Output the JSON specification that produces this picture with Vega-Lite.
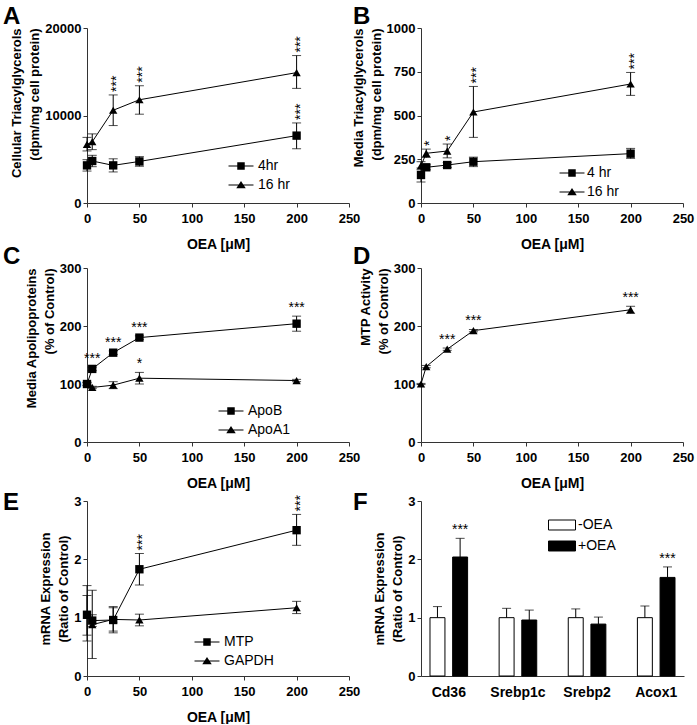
{
"$schema": "https://vega.github.io/schema/vega-lite/v6.json",
"padding": {"left": 3, "top": 5, "right": 3, "bottom": 0},
"autosize": {"type": "pad"},
"bounds": "full",
"spacing": -6,
"config": {
  "font": "Liberation Sans",
  "view": {"stroke": null},
  "axis": {"domainColor": "#333", "tickColor": "#333", "tickSize": 4, "labelFont": "Liberation Sans", "labelFontSize": 13, "labelFontWeight": "bold", "labelColor": "black", "titleFont": "Liberation Sans", "titleFontSize": 13, "titleFontWeight": "bold", "titleColor": "black", "grid": false, "labelPadding": 2, "titleLineHeight": 18},
  "axisX": {"titleFontSize": 14, "titlePadding": 12, "labelPadding": 5, "labelFlush": false, "labelOverlap": false},
  "axisY": {"titlePadding": 3, "labelOverlap": false},
  "legend": {"labelFont": "Liberation Sans", "labelFontSize": 14, "labelColor": "black", "padding": 0, "rowPadding": 5, "orient": "none"},
  "title": {"anchor": "start", "frame": "group", "fontSize": 24, "fontWeight": "bold", "font": "Liberation Sans", "baseline": "alphabetic", "offset": -7, "color": "black"}
},
"datasets": {
  "a": [
    {"s": "4hr", "x": 0, "y": 4300, "lo": 3650, "hi": 4950, "sig": ""},
    {"s": "4hr", "x": 5, "y": 4800, "lo": 4150, "hi": 5450, "sig": ""},
    {"s": "4hr", "x": 25, "y": 4300, "lo": 3550, "hi": 5050, "sig": ""},
    {"s": "4hr", "x": 50, "y": 4750, "lo": 4200, "hi": 5300, "sig": ""},
    {"s": "4hr", "x": 200, "y": 7700, "lo": 6200, "hi": 9150, "sig": "***"},
    {"s": "16 hr", "x": 0, "y": 6700, "lo": 5950, "hi": 7500, "sig": ""},
    {"s": "16 hr", "x": 5, "y": 7000, "lo": 6100, "hi": 7900, "sig": ""},
    {"s": "16 hr", "x": 25, "y": 10600, "lo": 8850, "hi": 12350, "sig": "***"},
    {"s": "16 hr", "x": 50, "y": 11800, "lo": 10150, "hi": 13400, "sig": "***"},
    {"s": "16 hr", "x": 200, "y": 14900, "lo": 13100, "hi": 16850, "sig": "***"}
  ],
  "b": [
    {"s": "4 hr", "x": 0, "y": 160, "lo": 120, "hi": 200, "sig": ""},
    {"s": "4 hr", "x": 5, "y": 204, "lo": 190, "hi": 218, "sig": ""},
    {"s": "4 hr", "x": 25, "y": 217, "lo": 203, "hi": 231, "sig": ""},
    {"s": "4 hr", "x": 50, "y": 236, "lo": 208, "hi": 262, "sig": ""},
    {"s": "4 hr", "x": 200, "y": 282, "lo": 255, "hi": 312, "sig": ""},
    {"s": "16 hr", "x": 0, "y": 213, "lo": 190, "hi": 236, "sig": ""},
    {"s": "16 hr", "x": 5, "y": 284, "lo": 260, "hi": 308, "sig": "*"},
    {"s": "16 hr", "x": 25, "y": 297, "lo": 258, "hi": 337, "sig": "*"},
    {"s": "16 hr", "x": 50, "y": 520, "lo": 375, "hi": 666, "sig": "***"},
    {"s": "16 hr", "x": 200, "y": 680, "lo": 615, "hi": 746, "sig": "***"}
  ],
  "c": [
    {"s": "ApoB", "x": 0, "y": 100, "lo": 97, "hi": 103, "sig": ""},
    {"s": "ApoB", "x": 5, "y": 126, "lo": 123, "hi": 129, "sig": "***"},
    {"s": "ApoB", "x": 25, "y": 154, "lo": 151, "hi": 157, "sig": "***"},
    {"s": "ApoB", "x": 50, "y": 180, "lo": 177, "hi": 183, "sig": "***"},
    {"s": "ApoB", "x": 200, "y": 204, "lo": 191, "hi": 217, "sig": "***"},
    {"s": "ApoA1", "x": 0, "y": 100, "lo": 98, "hi": 102, "sig": ""},
    {"s": "ApoA1", "x": 5, "y": 94, "lo": 92, "hi": 96, "sig": ""},
    {"s": "ApoA1", "x": 25, "y": 98, "lo": 92, "hi": 104, "sig": ""},
    {"s": "ApoA1", "x": 50, "y": 110, "lo": 100, "hi": 120, "sig": "*"},
    {"s": "ApoA1", "x": 200, "y": 106, "lo": 104, "hi": 108, "sig": ""}
  ],
  "d": [
    {"s": "MTP", "x": 0, "y": 100, "lo": 99, "hi": 101, "sig": ""},
    {"s": "MTP", "x": 5, "y": 130, "lo": 128, "hi": 132, "sig": ""},
    {"s": "MTP", "x": 25, "y": 160, "lo": 158, "hi": 162, "sig": "***"},
    {"s": "MTP", "x": 50, "y": 192, "lo": 190, "hi": 194, "sig": "***"},
    {"s": "MTP", "x": 200, "y": 228, "lo": 222, "hi": 234, "sig": "***"}
  ],
  "e": [
    {"s": "MTP", "x": 0, "y": 1.05, "lo": 0.6, "hi": 1.55, "sig": ""},
    {"s": "MTP", "x": 5, "y": 0.95, "lo": 0.85, "hi": 1.05, "sig": ""},
    {"s": "MTP", "x": 25, "y": 0.96, "lo": 0.74, "hi": 1.19, "sig": ""},
    {"s": "MTP", "x": 50, "y": 1.83, "lo": 1.56, "hi": 2.1, "sig": "***"},
    {"s": "MTP", "x": 200, "y": 2.5, "lo": 2.24, "hi": 2.77, "sig": "***"},
    {"s": "GAPDH", "x": 0, "y": 1.05, "lo": 0.7, "hi": 1.38, "sig": ""},
    {"s": "GAPDH", "x": 5, "y": 0.88, "lo": 0.3, "hi": 1.47, "sig": ""},
    {"s": "GAPDH", "x": 25, "y": 0.97, "lo": 0.77, "hi": 1.17, "sig": ""},
    {"s": "GAPDH", "x": 50, "y": 0.96, "lo": 0.86, "hi": 1.06, "sig": ""},
    {"s": "GAPDH", "x": 200, "y": 1.17, "lo": 1.07, "hi": 1.28, "sig": ""}
  ],
  "f": [
    {"gene": "Cd36", "cond": "-OEA", "y": 1.0, "hi": 1.19, "sig": ""},
    {"gene": "Cd36", "cond": "+OEA", "y": 2.04, "hi": 2.36, "sig": "***"},
    {"gene": "Srebp1c", "cond": "-OEA", "y": 1.0, "hi": 1.16, "sig": ""},
    {"gene": "Srebp1c", "cond": "+OEA", "y": 0.96, "hi": 1.13, "sig": ""},
    {"gene": "Srebp2", "cond": "-OEA", "y": 1.0, "hi": 1.15, "sig": ""},
    {"gene": "Srebp2", "cond": "+OEA", "y": 0.89, "hi": 1.01, "sig": ""},
    {"gene": "Acox1", "cond": "-OEA", "y": 1.0, "hi": 1.2, "sig": ""},
    {"gene": "Acox1", "cond": "+OEA", "y": 1.69, "hi": 1.87, "sig": "***"}
  ]
},
"resolve": {"scale": {"shape": "independent", "fill": "independent"}, "legend": {"shape": "independent", "fill": "independent"}},
"vconcat": [
 {
  "bounds": "flush",
  "spacing": 72,
  "resolve": {"scale": {"shape": "independent", "fill": "independent"}, "legend": {"shape": "independent", "fill": "independent"}},
  "hconcat": [
   {
    "width": 262, "height": 175,
    "title": {"text": "A", "dx": -84},
    "data": {"name": "a"},
    "resolve": {"scale": {"shape": "independent"}, "legend": {"shape": "independent"}},
    "layer": [
     {"mark": {"type": "line", "color": "black", "strokeWidth": 1},
      "encoding": {
        "x": {"field": "x", "type": "quantitative", "scale": {"domain": [0, 250], "nice": false}, "axis": {"values": [0, 50, 100, 150, 200, 250], "title": "OEA [μM]"}},
        "y": {"field": "y", "type": "quantitative", "scale": {"domain": [0, 20000], "nice": false}, "axis": {"values": [0, 10000, 20000], "format": "d", "title": ["Cellular Triacylglycerols", "(dpm/mg cell protein)"], "titleAnchor": "end"}},
        "detail": {"field": "s"}}},
     {"mark": {"type": "rule", "color": "black", "strokeWidth": 1},
      "encoding": {"x": {"field": "x", "type": "quantitative"}, "y": {"field": "lo", "type": "quantitative"}, "y2": {"field": "hi"}}},
     {"mark": {"type": "tick", "orient": "horizontal", "color": "black", "size": 9, "thickness": 1},
      "encoding": {"x": {"field": "x", "type": "quantitative"}, "y": {"field": "lo", "type": "quantitative"}}},
     {"mark": {"type": "tick", "orient": "horizontal", "color": "black", "size": 9, "thickness": 1},
      "encoding": {"x": {"field": "x", "type": "quantitative"}, "y": {"field": "hi", "type": "quantitative"}}},
     {"mark": {"type": "point", "filled": true, "color": "black", "opacity": 1, "size": 70},
      "encoding": {"x": {"field": "x", "type": "quantitative"}, "y": {"field": "y", "type": "quantitative"},
        "shape": {"field": "s", "type": "nominal", "scale": {"domain": ["4hr", "16 hr"], "range": ["square", "triangle-up"]}, "legend": null}}},
     {"mark": {"type": "point", "filled": true, "color": "black", "opacity": 0},
      "encoding": {"x": {"field": "x", "type": "quantitative"}, "y": {"field": "y", "type": "quantitative"},
        "shape": {"field": "s", "type": "nominal", "scale": {"domain": ["4hr", "16 hr"], "range": ["M-2,-0.08H2V0.08H-2ZM-0.6,-0.6H0.6V0.6H-0.6Z", "M-2,-0.08H2V0.08H-2ZM0,-0.66L0.76,0.52H-0.76Z"]},
          "legend": {"title": null, "legendX": 147, "legendY": 131, "symbolSize": 156, "symbolOpacity": 1, "symbolFillColor": "black", "symbolStrokeWidth": 0, "labelOffset": 10}}}},
     {"mark": {"type": "text", "angle": 270, "align": "left", "baseline": "middle", "dx": 3, "dy": 4, "fontSize": 14, "color": "black"},
      "encoding": {"x": {"field": "x", "type": "quantitative"}, "y": {"field": "hi", "type": "quantitative"}, "text": {"field": "sig"}}}
    ]
   },
   {
    "width": 262, "height": 175,
    "title": {"text": "B", "dx": -68},
    "data": {"name": "b"},
    "resolve": {"scale": {"shape": "independent"}, "legend": {"shape": "independent"}},
    "layer": [
     {"mark": {"type": "line", "color": "black", "strokeWidth": 1},
      "encoding": {
        "x": {"field": "x", "type": "quantitative", "scale": {"domain": [0, 250], "nice": false}, "axis": {"values": [0, 50, 100, 150, 200, 250], "title": "OEA [μM]"}},
        "y": {"field": "y", "type": "quantitative", "scale": {"domain": [0, 1000], "nice": false}, "axis": {"values": [0, 250, 500, 750, 1000], "format": "d", "title": ["Media Triacylglycerols", "(dpm/mg cell protein)"], "titleAnchor": "end"}},
        "detail": {"field": "s"}}},
     {"mark": {"type": "rule", "color": "black", "strokeWidth": 1},
      "encoding": {"x": {"field": "x", "type": "quantitative"}, "y": {"field": "lo", "type": "quantitative"}, "y2": {"field": "hi"}}},
     {"mark": {"type": "tick", "orient": "horizontal", "color": "black", "size": 9, "thickness": 1},
      "encoding": {"x": {"field": "x", "type": "quantitative"}, "y": {"field": "lo", "type": "quantitative"}}},
     {"mark": {"type": "tick", "orient": "horizontal", "color": "black", "size": 9, "thickness": 1},
      "encoding": {"x": {"field": "x", "type": "quantitative"}, "y": {"field": "hi", "type": "quantitative"}}},
     {"mark": {"type": "point", "filled": true, "color": "black", "opacity": 1, "size": 70},
      "encoding": {"x": {"field": "x", "type": "quantitative"}, "y": {"field": "y", "type": "quantitative"},
        "shape": {"field": "s", "type": "nominal", "scale": {"domain": ["4 hr", "16 hr"], "range": ["square", "triangle-up"]}, "legend": null}}},
     {"mark": {"type": "point", "filled": true, "color": "black", "opacity": 0},
      "encoding": {"x": {"field": "x", "type": "quantitative"}, "y": {"field": "y", "type": "quantitative"},
        "shape": {"field": "s", "type": "nominal", "scale": {"domain": ["4 hr", "16 hr"], "range": ["M-2,-0.08H2V0.08H-2ZM-0.6,-0.6H0.6V0.6H-0.6Z", "M-2,-0.08H2V0.08H-2ZM0,-0.66L0.76,0.52H-0.76Z"]},
          "legend": {"title": null, "legendX": 144, "legendY": 138, "symbolSize": 156, "symbolOpacity": 1, "symbolFillColor": "black", "symbolStrokeWidth": 0, "labelOffset": 8}}}},
     {"mark": {"type": "text", "angle": 270, "align": "left", "baseline": "middle", "dx": 3, "dy": 4, "fontSize": 14, "color": "black"},
      "encoding": {"x": {"field": "x", "type": "quantitative"}, "y": {"field": "hi", "type": "quantitative"}, "text": {"field": "sig"}}}
    ]
   }
  ]
 },
 {
  "bounds": "flush",
  "spacing": 72,
  "resolve": {"scale": {"shape": "independent", "fill": "independent"}, "legend": {"shape": "independent", "fill": "independent"}},
  "hconcat": [
   {
    "width": 262, "height": 174,
    "title": {"text": "C", "dx": -84},
    "data": {"name": "c"},
    "resolve": {"scale": {"shape": "independent"}, "legend": {"shape": "independent"}},
    "layer": [
     {"mark": {"type": "line", "color": "black", "strokeWidth": 1},
      "encoding": {
        "x": {"field": "x", "type": "quantitative", "scale": {"domain": [0, 250], "nice": false}, "axis": {"values": [0, 50, 100, 150, 200, 250], "title": "OEA [μM]"}},
        "y": {"field": "y", "type": "quantitative", "scale": {"domain": [0, 300], "nice": false}, "axis": {"values": [0, 100, 200, 300], "title": ["Media Apolipoproteins", "(% of Control)"], "titleAnchor": "end"}},
        "detail": {"field": "s"}}},
     {"mark": {"type": "rule", "color": "black", "strokeWidth": 1},
      "encoding": {"x": {"field": "x", "type": "quantitative"}, "y": {"field": "lo", "type": "quantitative"}, "y2": {"field": "hi"}}},
     {"mark": {"type": "tick", "orient": "horizontal", "color": "black", "size": 9, "thickness": 1},
      "encoding": {"x": {"field": "x", "type": "quantitative"}, "y": {"field": "lo", "type": "quantitative"}}},
     {"mark": {"type": "tick", "orient": "horizontal", "color": "black", "size": 9, "thickness": 1},
      "encoding": {"x": {"field": "x", "type": "quantitative"}, "y": {"field": "hi", "type": "quantitative"}}},
     {"mark": {"type": "point", "filled": true, "color": "black", "opacity": 1, "size": 70},
      "encoding": {"x": {"field": "x", "type": "quantitative"}, "y": {"field": "y", "type": "quantitative"},
        "shape": {"field": "s", "type": "nominal", "scale": {"domain": ["ApoB", "ApoA1"], "range": ["square", "triangle-up"]}, "legend": null}}},
     {"mark": {"type": "point", "filled": true, "color": "black", "opacity": 0},
      "encoding": {"x": {"field": "x", "type": "quantitative"}, "y": {"field": "y", "type": "quantitative"},
        "shape": {"field": "s", "type": "nominal", "scale": {"domain": ["ApoB", "ApoA1"], "range": ["M-2,-0.08H2V0.08H-2ZM-0.6,-0.6H0.6V0.6H-0.6Z", "M-2,-0.08H2V0.08H-2ZM0,-0.66L0.76,0.52H-0.76Z"]},
          "legend": {"title": null, "legendX": 137, "legendY": 136, "symbolSize": 156, "symbolOpacity": 1, "symbolFillColor": "black", "symbolStrokeWidth": 0, "labelOffset": 10}}}},
     {"mark": {"type": "text", "align": "center", "baseline": "bottom", "dy": -1, "fontSize": 14, "color": "black"},
      "encoding": {"x": {"field": "x", "type": "quantitative"}, "y": {"field": "hi", "type": "quantitative"}, "text": {"field": "sig"}}}
    ]
   },
   {
    "width": 262, "height": 174,
    "title": {"text": "D", "dx": -68},
    "data": {"name": "d"},
    "layer": [
     {"mark": {"type": "line", "color": "black", "strokeWidth": 1},
      "encoding": {
        "x": {"field": "x", "type": "quantitative", "scale": {"domain": [0, 250], "nice": false}, "axis": {"values": [0, 50, 100, 150, 200, 250], "title": "OEA [μM]"}},
        "y": {"field": "y", "type": "quantitative", "scale": {"domain": [0, 300], "nice": false}, "axis": {"values": [0, 100, 200, 300], "title": ["MTP Activity", "(% of Control)"], "titleAnchor": "end"}}}},
     {"mark": {"type": "rule", "color": "black", "strokeWidth": 1},
      "encoding": {"x": {"field": "x", "type": "quantitative"}, "y": {"field": "lo", "type": "quantitative"}, "y2": {"field": "hi"}}},
     {"mark": {"type": "tick", "orient": "horizontal", "color": "black", "size": 9, "thickness": 1},
      "encoding": {"x": {"field": "x", "type": "quantitative"}, "y": {"field": "lo", "type": "quantitative"}}},
     {"mark": {"type": "tick", "orient": "horizontal", "color": "black", "size": 9, "thickness": 1},
      "encoding": {"x": {"field": "x", "type": "quantitative"}, "y": {"field": "hi", "type": "quantitative"}}},
     {"mark": {"type": "point", "filled": true, "color": "black", "opacity": 1, "size": 70, "shape": "triangle-up"},
      "encoding": {"x": {"field": "x", "type": "quantitative"}, "y": {"field": "y", "type": "quantitative"}}},
     {"mark": {"type": "text", "align": "center", "baseline": "bottom", "dy": -1, "fontSize": 14, "color": "black"},
      "encoding": {"x": {"field": "x", "type": "quantitative"}, "y": {"field": "hi", "type": "quantitative"}, "text": {"field": "sig"}}}
    ]
   }
  ]
 },
 {
  "bounds": "flush",
  "spacing": 72,
  "resolve": {"scale": {"shape": "independent", "fill": "independent"}, "legend": {"shape": "independent", "fill": "independent"}},
  "hconcat": [
   {
    "width": 262, "height": 175,
    "title": {"text": ["", "E"], "lineHeight": 7, "dx": -84, "dy": 13},
    "data": {"name": "e"},
    "resolve": {"scale": {"shape": "independent"}, "legend": {"shape": "independent"}},
    "layer": [
     {"mark": {"type": "line", "color": "black", "strokeWidth": 1},
      "encoding": {
        "x": {"field": "x", "type": "quantitative", "scale": {"domain": [0, 250], "nice": false}, "axis": {"values": [0, 50, 100, 150, 200, 250], "title": "OEA [μM]"}},
        "y": {"field": "y", "type": "quantitative", "scale": {"domain": [0, 3], "nice": false}, "axis": {"values": [0, 1, 2, 3], "format": "d", "title": ["mRNA Expression", "(Ratio of Control)"]}},
        "detail": {"field": "s"}}},
     {"mark": {"type": "rule", "color": "black", "strokeWidth": 1},
      "encoding": {"x": {"field": "x", "type": "quantitative"}, "y": {"field": "lo", "type": "quantitative"}, "y2": {"field": "hi"}}},
     {"mark": {"type": "tick", "orient": "horizontal", "color": "black", "size": 9, "thickness": 1},
      "encoding": {"x": {"field": "x", "type": "quantitative"}, "y": {"field": "lo", "type": "quantitative"}}},
     {"mark": {"type": "tick", "orient": "horizontal", "color": "black", "size": 9, "thickness": 1},
      "encoding": {"x": {"field": "x", "type": "quantitative"}, "y": {"field": "hi", "type": "quantitative"}}},
     {"mark": {"type": "point", "filled": true, "color": "black", "opacity": 1, "size": 70},
      "encoding": {"x": {"field": "x", "type": "quantitative"}, "y": {"field": "y", "type": "quantitative"},
        "shape": {"field": "s", "type": "nominal", "scale": {"domain": ["MTP", "GAPDH"], "range": ["square", "triangle-up"]}, "legend": null}}},
     {"mark": {"type": "point", "filled": true, "color": "black", "opacity": 0},
      "encoding": {"x": {"field": "x", "type": "quantitative"}, "y": {"field": "y", "type": "quantitative"},
        "shape": {"field": "s", "type": "nominal", "scale": {"domain": ["MTP", "GAPDH"], "range": ["M-2,-0.08H2V0.08H-2ZM-0.6,-0.6H0.6V0.6H-0.6Z", "M-2,-0.08H2V0.08H-2ZM0,-0.66L0.76,0.52H-0.76Z"]},
          "legend": {"title": null, "legendX": 113, "legendY": 134, "symbolSize": 156, "symbolOpacity": 1, "symbolFillColor": "black", "symbolStrokeWidth": 0, "labelOffset": 10}}}},
     {"mark": {"type": "text", "angle": 270, "align": "left", "baseline": "middle", "dx": 3, "dy": 4, "fontSize": 14, "color": "black"},
      "encoding": {"x": {"field": "x", "type": "quantitative"}, "y": {"field": "hi", "type": "quantitative"}, "text": {"field": "sig"}}}
    ]
   },
   {
    "width": 263, "height": 175,
    "title": {"text": ["", "F"], "lineHeight": 7, "dx": -68, "dy": 13},
    "data": {"name": "f"},
    "layer": [
     {"mark": {"type": "bar", "stroke": "black", "strokeWidth": 1},
      "encoding": {
        "x": {"field": "gene", "type": "nominal", "sort": ["Cd36", "Srebp1c", "Srebp2", "Acox1"], "scale": {"paddingInner": 0.456, "paddingOuter": 0.13}, "axis": {"title": null, "labelAngle": 0, "ticks": false, "labelFontSize": 14, "labelPadding": 9}},
        "xOffset": {"field": "cond", "type": "nominal", "sort": ["-OEA", "+OEA"], "scale": {"paddingInner": 0.34, "paddingOuter": 0}},
        "y": {"field": "y", "type": "quantitative", "scale": {"domain": [0, 3], "nice": false}, "axis": {"values": [0, 1, 2, 3], "format": "d", "title": ["mRNA Expression", "(Ratio of Control)"]}},
        "fill": {"field": "cond", "type": "nominal", "scale": {"domain": ["-OEA", "+OEA"], "range": ["white", "black"]},
          "legend": {"title": null, "legendX": 127, "legendY": 10, "symbolType": "M-1,-0.37H1V0.37H-1Z", "symbolSize": 729, "symbolStrokeColor": "black", "symbolStrokeWidth": 1, "labelOffset": 2, "rowPadding": 0}}}},
     {"mark": {"type": "rule", "color": "black", "strokeWidth": 1},
      "encoding": {
        "x": {"field": "gene", "type": "nominal", "sort": ["Cd36", "Srebp1c", "Srebp2", "Acox1"]},
        "xOffset": {"field": "cond", "type": "nominal", "sort": ["-OEA", "+OEA"]},
        "y": {"field": "y", "type": "quantitative"}, "y2": {"field": "hi"}}},
     {"mark": {"type": "tick", "color": "black", "size": 9, "thickness": 1},
      "encoding": {
        "x": {"field": "gene", "type": "nominal", "sort": ["Cd36", "Srebp1c", "Srebp2", "Acox1"]},
        "xOffset": {"field": "cond", "type": "nominal", "sort": ["-OEA", "+OEA"]},
        "y": {"field": "hi", "type": "quantitative"}}},
     {"mark": {"type": "text", "align": "center", "baseline": "bottom", "dy": -1, "fontSize": 14, "color": "black"},
      "encoding": {
        "x": {"field": "gene", "type": "nominal", "sort": ["Cd36", "Srebp1c", "Srebp2", "Acox1"]},
        "xOffset": {"field": "cond", "type": "nominal", "sort": ["-OEA", "+OEA"]},
        "y": {"field": "hi", "type": "quantitative"}, "text": {"field": "sig"}}}
    ]
   }
  ]
 }
]
}
